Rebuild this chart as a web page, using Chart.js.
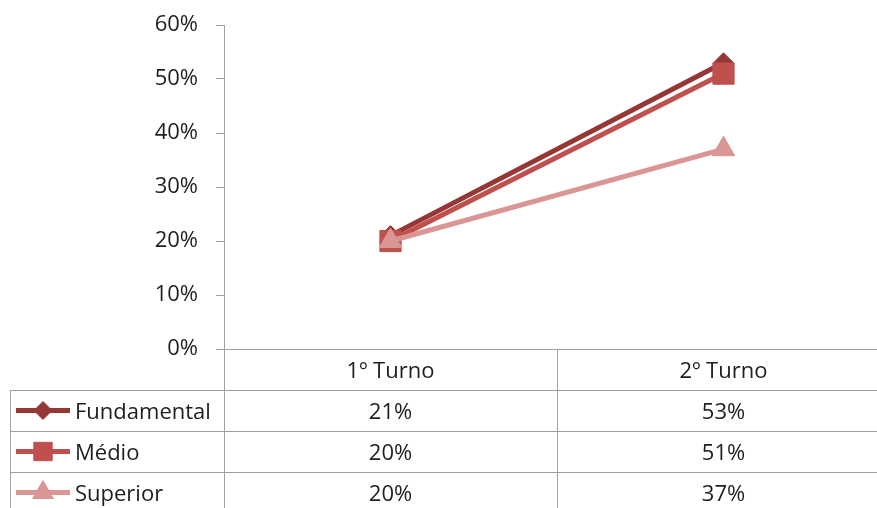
<!DOCTYPE html>
<html>
<head>
<meta charset="utf-8">
<script src="https://cdn.jsdelivr.net/npm/chart.js@4/dist/chart.umd.min.js"></script>
<style>
  html, body { margin: 0; padding: 0; background: #ffffff; overflow: hidden; }
  #wrap { width: 877px; height: 508px; overflow: hidden; position: relative; }
  canvas { display: block; }
</style>
</head>
<body>
<div id="wrap"><canvas id="chart" width="900" height="508"></canvas></div>
<script>
// Categories (election rounds) and series (schooling level), values in %
const turnos = ['1º Turno', '2º Turno'];
const escolaridade = ['Fundamental', 'Médio', 'Superior'];
const fundamental = [21, 53];
const medio = [20, 51];
const superior = [20, 37];
const yTicks = [0, 10, 20, 30, 40, 50, 60];

const FONT = '"Open Sans", Lato, sans-serif';
const TEXT = '#1e1e1e';
const RULE = '#A0A0A0';
const ROW_H = 41;

const seriesStyle = [
  { color: '#953735', pointStyle: 'rectRot', radius: 10, keyRadius: 9 },
  { color: '#C0504D', pointStyle: 'rect', radius: 15, keyRadius: 13 },
  { color: '#D99694', pointStyle: 'triangle', radius: 13, keyRadius: 12 }
];
const seriesValues = [fundamental, medio, superior];

const datasets = escolaridade.map((name, i) => ({
  label: name,
  data: seriesValues[i],
  borderColor: seriesStyle[i].color,
  backgroundColor: seriesStyle[i].color,
  borderWidth: 5,
  pointStyle: seriesStyle[i].pointStyle,
  pointRadius: seriesStyle[i].radius,
  pointHoverRadius: seriesStyle[i].radius,
  pointBackgroundColor: seriesStyle[i].color,
  pointBorderColor: seriesStyle[i].color,
  pointBorderWidth: 1,
  tension: 0,
  clip: false,
  order: escolaridade.length - i
}));

function marker(ctx, style, radius, x, y, color) {
  ctx.fillStyle = color;
  ctx.strokeStyle = color;
  ctx.lineWidth = 1;
  Chart.helpers.drawPoint(ctx, { pointStyle: style, radius: radius, rotation: 0, borderWidth: 1 }, x, y);
}

// Data table under the plot: header row with categories, one row per series
const dataTable = {
  id: 'dataTable',
  afterDraw(chart) {
    const { ctx, chartArea: a, scales: { x } } = chart;
    const n = turnos.length;
    const step = (a.right - a.left) / n;
    const top = a.bottom;
    const bottom = chart.height;
    const keyLeft = 10;

    ctx.save();
    ctx.strokeStyle = RULE;
    ctx.lineWidth = 1;
    ctx.beginPath();
    for (let r = 1; r <= escolaridade.length; r++) {
      const y = Math.round(top + r * ROW_H) + 0.5;
      ctx.moveTo(keyLeft, y);
      ctx.lineTo(a.right, y);
    }
    for (let c = 0; c <= n; c++) {
      const xx = Math.round(a.left + c * step) + 0.5;
      ctx.moveTo(xx, top);
      ctx.lineTo(xx, bottom);
    }
    const lx = keyLeft + 0.5;
    ctx.moveTo(lx, Math.round(top + ROW_H));
    ctx.lineTo(lx, bottom);
    ctx.stroke();

    ctx.font = '22px ' + FONT;
    ctx.fillStyle = TEXT;
    ctx.textAlign = 'center';
    ctx.textBaseline = 'middle';
    turnos.forEach((t, c) => {
      ctx.fillText(t, x.getPixelForValue(c), top + ROW_H / 2 + 2);
    });

    escolaridade.forEach((name, r) => {
      const cy = top + ROW_H * (r + 1) + ROW_H / 2;
      const s = seriesStyle[r];
      ctx.strokeStyle = s.color;
      ctx.lineWidth = 5;
      ctx.beginPath();
      ctx.moveTo(16, cy);
      ctx.lineTo(70, cy);
      ctx.stroke();
      marker(ctx, s.pointStyle, s.keyRadius, 43, cy, s.color);

      ctx.fillStyle = TEXT;
      ctx.textAlign = 'left';
      ctx.fillText(name, 75, cy + 2);
      ctx.textAlign = 'center';
      seriesValues[r].forEach((v, c) => {
        ctx.fillText(v + '%', x.getPixelForValue(c), cy + 2);
      });
    });
    ctx.restore();
  }
};

Chart.defaults.font.family = FONT;
Chart.defaults.font.size = 22;
Chart.defaults.color = TEXT;

new Chart(document.getElementById('chart'), {
  type: 'line',
  data: { labels: turnos, datasets: datasets },
  options: {
    responsive: false,
    animation: false,
    devicePixelRatio: 1,
    layout: { autoPadding: false, padding: { top: 25, right: 10, left: 0, bottom: 0 } },
    plugins: { legend: { display: false }, tooltip: { enabled: false } },
    scales: {
      x: {
        type: 'category',
        offset: true,
        grid: { display: false },
        border: { display: true, color: RULE, width: 1 },
        ticks: { display: false },
        afterFit(scale) { scale.height = 159; scale.paddingLeft = 0; scale.paddingRight = 0; }
      },
      y: {
        min: yTicks[0],
        max: yTicks[yTicks.length - 1],
        afterBuildTicks(scale) { scale.ticks = yTicks.map(v => ({ value: v })); },
        grid: { drawOnChartArea: false, drawTicks: true, tickLength: 8, color: RULE },
        border: { display: true, color: RULE, width: 1 },
        ticks: { padding: 18, color: TEXT, callback: v => v + '%' },
        afterFit(scale) { scale.width = 224; scale.paddingTop = 0; scale.paddingBottom = 0; }
      }
    }
  },
  plugins: [dataTable]
});
</script>
</body>
</html>
